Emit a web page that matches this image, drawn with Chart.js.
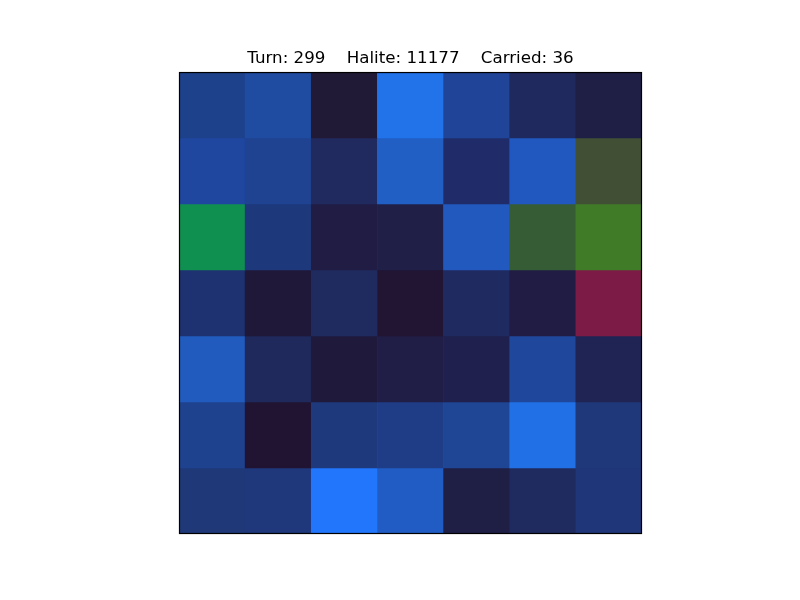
<!DOCTYPE html>
<html>
<head>
<meta charset="utf-8">
<script src="https://cdn.jsdelivr.net/npm/chart.js@4"></script>
<style>
  html, body { margin: 0; padding: 0; background: #fff; }
  #wrap { width: 800px; height: 600px; }
</style>
</head>
<body>
<div id="wrap"><canvas id="grid"></canvas></div>
<script>
// map cell colours, one list per row, top row first
const columns = ["0", "1", "2", "3", "4", "5", "6"];
const row0 = ["#1e418c", "#1f4ba0", "#211a36", "#2272ea", "#204497", "#1f295e", "#1f1f46"];
const row1 = ["#1f47a0", "#1f4291", "#202a5f", "#215fc4", "#1f2c69", "#2158bf", "#415035"];
const row2 = ["#109050", "#1e397b", "#201c44", "#1f1f48", "#2159be", "#365c35", "#407b27"];
const row3 = ["#1e3170", "#1f1839", "#1f2b5f", "#221533", "#1f2a60", "#201c43", "#7c1c46"];
const row4 = ["#215bbe", "#1f295b", "#1f1a3c", "#201d46", "#1f204d", "#1f479b", "#1f2455"];
const row5 = ["#1f428f", "#211432", "#1e3a7c", "#1f3d86", "#1f4595", "#2170e6", "#1f3879"];
const row6 = ["#1f3878", "#1f377b", "#2176fc", "#215cc4", "#1f1e45", "#1f2b5f", "#1f3679"];
const rows = [row0, row1, row2, row3, row4, row5, row6];

const turn = 299;
const halite = 11177;
const carried = 36;

const frame = {
    id: "frame",
    afterDatasetsDraw(chart) {
        const { ctx, chartArea } = chart;
        ctx.save();
        ctx.strokeStyle = "#000";
        ctx.lineWidth = 1.2;
        ctx.strokeRect(chartArea.left + 0.5, chartArea.top + 0.5,
            chartArea.right - chartArea.left - 1, chartArea.bottom - chartArea.top - 1);
        ctx.restore();
    },
};

const grid = document.getElementById("grid");
const gridConfig = new Chart(grid, {
    type: "bar",
    data: {
        labels: columns,
        datasets: rows.map((r, i) => ({
            label: "row " + i,
            data: columns.map(() => 1),
            backgroundColor: r,
            borderWidth: 0,
            barPercentage: 1,
            categoryPercentage: 1,
        })),
    },
    options: {
        responsive: true,
        maintainAspectRatio: false,
        animation: false,
        layout: {
            padding: { left: 179, right: 158, top: 49, bottom: 66 },
        },
        scales: {
            x: { display: false, stacked: true },
            y: { display: false, stacked: true, min: 0, max: 7, reverse: true },
        },
        plugins: {
            legend: { display: false },
            tooltip: { enabled: false },
            title: {
                display: true,
                text: "Turn: " + turn + "    Halite: " + halite + "    Carried: " + carried,
                color: "#000",
                font: { family: "DejaVu Sans", size: 16.7, weight: "normal" },
                padding: { top: 0, bottom: 3 },
            },
        },
    },
    plugins: [frame],
});
</script>
</body>
</html>
